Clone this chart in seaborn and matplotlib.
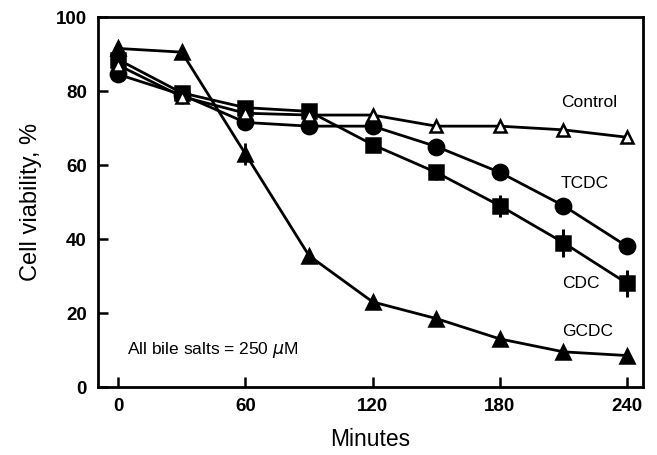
import matplotlib
matplotlib.use("Agg")
import matplotlib.pyplot as plt
import seaborn as sns
import pandas as pd
import numpy as np

minutes = [0, 30, 60, 90, 120, 150, 180, 210, 240]
control = [87.0, 78.5, 74.0, 73.5, 73.5, 70.5, 70.5, 69.5, 67.5]
tcdc = [84.5, 79.0, 71.5, 70.5, 70.5, 65.0, 58.0, 49.0, 38.0]
cdc = [88.5, 79.5, 75.5, 74.5, 65.5, 58.0, 49.0, 39.0, 28.0]
gcdc = [91.5, 90.5, 63.0, 35.5, 23.0, 18.5, 13.0, 9.5, 8.5]
cdc_err = [0, 0, 0, 0, 0, 2.0, 3.0, 3.8, 3.6]
gcdc_err = [0, 0, 3.0, 0, 0, 0, 0, 0, 0]

series_names = ["GCDC", "TCDC", "CDC", "Control"]
series_values = [gcdc, tcdc, cdc, control]
series_markers = ["^", "o", "s", "^"]
series_fill = ["black", "black", "black", "white"]
series_msize = [10, 11, 10, 9]

label_pos = {"Control": (589, 77), "TCDC": (585, 55), "CDC": (581, 28), "GCDC": (588, 15)}

sns.set_theme(style="ticks")
plt.rcParams["font.family"] = ["Liberation Sans", "DejaVu Sans"]
plt.rcParams["text.color"] = "black"
plt.rcParams["axes.labelcolor"] = "black"

fig = plt.figure(figsize=(6.57, 4.55), dpi=100)
ax = fig.add_axes([98 / 657, 1 - 387 / 455, (643 - 98) / 657, (387 - 17) / 455])

df = pd.DataFrame({
    "Minutes": minutes * 4,
    "Viability": sum(series_values, []),
    "Series": sum([[n] * len(minutes) for n in series_names], []),
})

# error bars first
ax.errorbar(minutes, cdc, yerr=cdc_err, fmt="none", ecolor="black", elinewidth=2.2, capsize=0, zorder=1)
ax.errorbar(minutes, gcdc, yerr=gcdc_err, fmt="none", ecolor="black", elinewidth=2.0, capsize=0, zorder=1)

for i, name in enumerate(series_names):
    sub = df[df["Series"] == name]
    sns.lineplot(data=sub, x="Minutes", y="Viability", ax=ax, color="black",
                 linewidth=2.0, marker=series_markers[i], markersize=series_msize[i],
                 markerfacecolor=series_fill[i], markeredgecolor="black",
                 markeredgewidth=1.8, zorder=2 + i, legend=False)

for name, (xp, yv) in label_pos.items():
    xd = (xp - 118) / (627 - 118) * 240
    ax.text(xd, yv, name, ha="center", va="center", fontsize=12.5, color="black")

ax.text(4, 10, "All bile salts = 250 $\\mu$M", ha="left", va="center", fontsize=12.5, color="black")

ax.set_xlim(-9.5, 247.5)
ax.set_ylim(0, 100)
ax.set_xticks([0, 60, 120, 180, 240])
ax.set_yticks([0, 20, 40, 60, 80, 100])
ax.tick_params(direction="in", length=7, width=1.8, colors="black", labelsize=13.5, pad=8)
for lab in ax.get_xticklabels() + ax.get_yticklabels():
    lab.set_fontweight("bold")
for s in ax.spines.values():
    s.set_visible(True)
    s.set_linewidth(2.0)
    s.set_color("black")
ax.set_xlabel("Minutes", fontsize=16.5, labelpad=9, color="black")
ax.set_ylabel("Cell viability, %", fontsize=17, labelpad=10, color="black")

fig.savefig("out.png", dpi=100)
